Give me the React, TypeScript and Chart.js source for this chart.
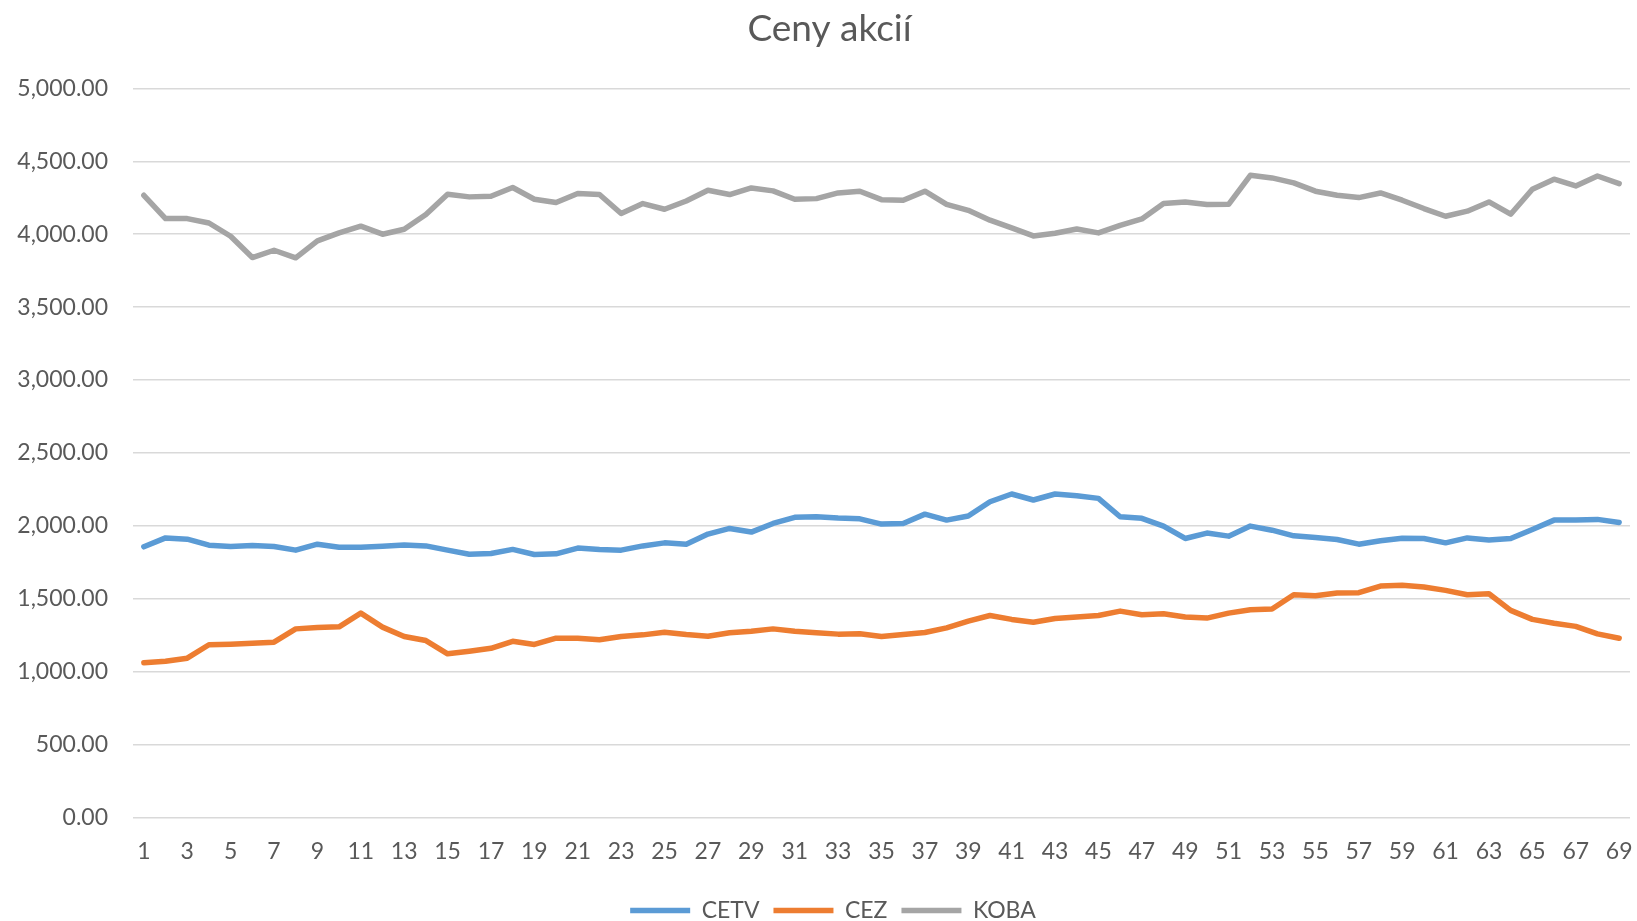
import React, { useEffect, useRef } from "react";
import { Chart, registerables } from "chart.js";

Chart.register(...registerables);

const categories: string[] = [
  "1","2","3","4","5","6","7","8","9","10","11","12","13","14","15","16","17","18","19","20",
  "21","22","23","24","25","26","27","28","29","30","31","32","33","34","35","36","37","38","39","40",
  "41","42","43","44","45","46","47","48","49","50","51","52","53","54","55","56","57","58","59","60",
  "61","62","63","64","65","66","67","68","69",
];

const cetv: number[] = [
  1856, 1917, 1908, 1867, 1858, 1865, 1858, 1833, 1874, 1853,
  1853, 1860, 1869, 1862, 1833, 1805, 1810, 1838, 1803, 1808,
  1847, 1838, 1833, 1862, 1883, 1874, 1943, 1982, 1957, 2016,
  2058, 2062, 2053, 2048, 2012, 2016, 2080, 2039, 2067, 2165,
  2218, 2177, 2218, 2206, 2188, 2062, 2051, 1998, 1913, 1950,
  1929, 1998, 1970, 1931, 1920, 1906, 1874, 1897, 1915, 1913,
  1883, 1917, 1902, 1913, 1975, 2039, 2039, 2044, 2023,
];

const cez: number[] = [
  1060, 1071, 1092, 1184, 1188, 1195, 1202, 1293, 1303, 1307,
  1401, 1305, 1241, 1213, 1122, 1140, 1160, 1208, 1186, 1229,
  1229, 1218, 1241, 1252, 1270, 1254, 1243, 1266, 1277, 1293,
  1277, 1266, 1257, 1260, 1241, 1254, 1268, 1300, 1346, 1385,
  1358, 1339, 1364, 1374, 1385, 1415, 1390, 1397, 1374, 1367,
  1401, 1424, 1429, 1527, 1520, 1539, 1541, 1587, 1592, 1580,
  1557, 1527, 1534, 1420, 1358, 1332, 1310, 1259, 1229,
];

const koba: number[] = [
  4267, 4107, 4107, 4077, 3986, 3840, 3890, 3838, 3954, 4009,
  4055, 4000, 4034, 4135, 4274, 4256, 4260, 4320, 4240, 4217,
  4279, 4272, 4142, 4210, 4171, 4228, 4301, 4272, 4317, 4297,
  4240, 4244, 4283, 4295, 4237, 4233, 4295, 4205, 4164, 4096,
  4043, 3988, 4007, 4036, 4009, 4060, 4105, 4210, 4221, 4203,
  4205, 4404, 4386, 4352, 4295, 4267, 4251, 4283, 4233, 4176,
  4123, 4158, 4221, 4137, 4308, 4377, 4331, 4399, 4347,
];

const seriesNames = ["CETV", "CEZ", "KOBA"];
const seriesColors = ["#5B9BD5", "#ED7D31", "#A5A5A5"];
const titleText = "Ceny akcií";

const FONT = "Lato, 'Open Sans', sans-serif";
const TEXT = "#595959";

const shiftPlugin = {
  id: "shiftTitleLegend",
  afterLayout(chart: any) {
    const t = chart.titleBlock;
    if (t) {
      t.left += 10.5;
      t.right += 10.5;
    }
    const l = chart.legend;
    if (l) {
      l.left += 14;
      l.right += 14;
    }
  },
};

export default function App() {
  const ref = useRef<HTMLCanvasElement | null>(null);

  useEffect(() => {
    if (!ref.current) return;
    const values = [cetv, cez, koba];
    const chart = new Chart(ref.current, {
      type: "line",
      data: {
        labels: categories,
        datasets: seriesNames.map((name, i) => ({
          label: name,
          data: values[i],
          borderColor: seriesColors[i],
          backgroundColor: seriesColors[i],
          borderWidth: 5.5,
          pointRadius: 0,
          pointHoverRadius: 0,
          tension: 0,
          borderJoinStyle: "round" as const,
          borderCapStyle: "round" as const,
          fill: false,
        })),
      },
      plugins: [shiftPlugin],
      options: {
        animation: false,
        responsive: true,
        maintainAspectRatio: false,
        layout: { padding: { left: 8, right: 7, top: 0, bottom: -11 } },
        plugins: {
          title: {
            display: true,
            text: titleText,
            color: TEXT,
            font: { family: FONT, size: 37, weight: "normal" },
            padding: { top: 7, bottom: 37 },
          },
          legend: {
            position: "bottom",
            labels: {
              color: TEXT,
              font: { family: FONT, size: 23 },
              usePointStyle: true,
              pointStyle: "line",
              pointStyleWidth: 60,
              boxHeight: 6,
              padding: 14,
            },
          },
          tooltip: { enabled: false },
        },
        scales: {
          x: {
            offset: true,
            grid: { display: false, drawTicks: false },
            border: { display: false },
            afterFit: (s: any) => {
              s.paddingLeft = 0;
              s.paddingRight = 0;
            },
            ticks: {
              color: TEXT,
              font: { family: FONT, size: 23 },
              autoSkip: false,
              maxRotation: 0,
              minRotation: 0,
              padding: 20,
              callback: (_v: any, idx: number) => (idx % 2 === 0 ? categories[idx] : ""),
            },
          },
          y: {
            min: 0,
            max: 5000,
            grid: { color: "#D9D9D9", lineWidth: 1.5, drawTicks: false },
            border: { display: false },
            afterFit: (s: any) => {
              s.width = 125;
            },
            ticks: {
              stepSize: 500,
              color: TEXT,
              font: { family: FONT, size: 23 },
              padding: 25,
              callback: (v: any) =>
                Number(v).toLocaleString("en-US", { minimumFractionDigits: 2, maximumFractionDigits: 2 }),
            },
          },
        },
      },
    });
    return () => chart.destroy();
  }, []);

  return (
    <div style={{ position: "fixed", left: 0, top: 0, width: 1637, height: 921, background: "#fff" }}>
      <canvas ref={ref} />
    </div>
  );
}
